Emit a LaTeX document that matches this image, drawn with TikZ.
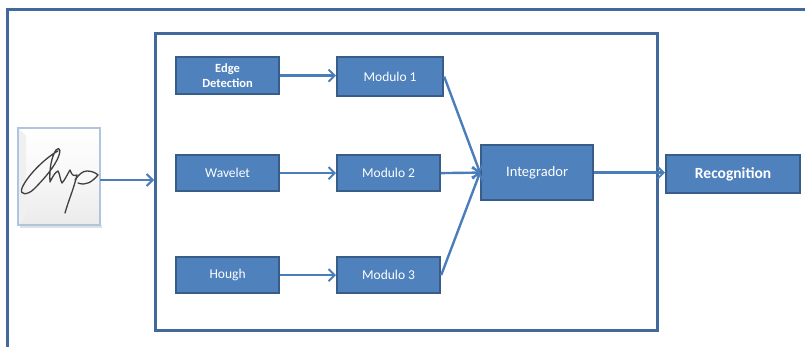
\documentclass[tikz,border=0pt]{standalone}
\usepackage{fontspec}
\setmainfont{Carlito}
\usetikzlibrary{arrows.meta}
\definecolor{boxfill}{HTML}{4F81BD}
\definecolor{boxline}{HTML}{385D8A}
\definecolor{frameline}{HTML}{41699B}
\definecolor{arrowc}{HTML}{4A7EBB}
\tikzset{
  blk/.style={draw=boxline, line width=2.2pt, fill=boxfill, text=white, inner sep=0pt, anchor=north west, font=\fontsize{13.5}{15}\selectfont},
  conn/.style={draw=arrowc, line width=2.4pt, -{Straight Barb[length=6pt,width=12pt,line width=2pt]}},
  frame/.style={draw=frameline, line width=3pt}
}
\begin{document}
\begin{tikzpicture}[x=1pt,y=-1pt]
\useasboundingbox (0,0) rectangle (805,347);
% outer frame (top and left)
\draw[frame] (7,347) -- (7,10) -- (805,10);
% inner frame
\node[frame, minimum width=502pt, minimum height=297pt, anchor=north west, inner sep=0pt] (inner) at (154,32) {};
% signature image
\fill[black!12] (20,225) rectangle (102,228);
\shade[top color=white, bottom color=black!8, middle color=black!3] (18,128) rectangle (100,225);
\fill[black!6] (18,128) -- (26,136) -- (26,217) -- (18,225) -- cycle;
\draw[draw=arrowc!45, line width=1.2pt] (18,128) rectangle (100,225);
\coordinate (sigR) at (100,180);
\node[inner sep=0pt, minimum width=82pt, minimum height=97pt, anchor=north west] (sig) at (18,128) {};
\draw[black!75, line width=1.3pt, line cap=round, line join=round]
  (58,151) .. controls (48,156) and (28,174) .. (22,188)
  .. controls (19,196) and (28,195) .. (34,189)
  .. controls (42,181) and (52,170) .. (57,160)
  .. controls (61,152) and (61,146) .. (56,150)
  .. controls (52,156) and (49,168) .. (50,182)
  .. controls (52,178) and (55,172) .. (58,171)
  .. controls (60,174) and (60,180) .. (62,183)
  .. controls (65,180) and (68,173) .. (70,170)
  .. controls (72,176) and (74,176) .. (77,175)
  .. controls (74,188) and (68,202) .. (65,213);
\draw[black!75, line width=1.3pt, line cap=round]
  (75,180) .. controls (79,174) and (83,171) .. (87,171)
  .. controls (92,171) and (96,173) .. (98,175)
  .. controls (92,182) and (86,186) .. (78,183);
% blocks
\node[blk, minimum width=103pt, minimum height=37pt, align=center, font=\fontsize{12.5}{15}\selectfont\bfseries] (edge) at (175,56) {Edge\\Detection};
\node[blk, minimum width=103pt, minimum height=36pt] (wav) at (175,154) {Wavelet};
\node[blk, minimum width=103pt, minimum height=36pt] (hough) at (175,256) {Hough};
\node[blk, minimum width=106pt, minimum height=39pt] (m1) at (336,56) {Modulo 1};
\node[blk, minimum width=103pt, minimum height=36pt] (m2) at (336,154) {Modulo 2};
\node[blk, minimum width=103pt, minimum height=36pt] (m3) at (336,256) {Modulo 3};
\node[blk, minimum width=112pt, minimum height=55pt, font=\fontsize{14.5}{16}\selectfont] (int) at (480,144) {Integrador};
\node[blk, minimum width=134pt, minimum height=38pt, font=\fontsize{15.5}{17}\selectfont\bfseries] (rec) at (665,154) {Recognition};
% connectors
\draw[conn] (sigR) -- (inner.west |- sigR);
\draw[conn] (edge.east) -- (m1.west |- edge.east);
\draw[conn] (wav.east) -- (m2.west);
\draw[conn] (hough.east) -- (m3.west);
\draw[conn] (m1.east) -- (int.west);
\draw[conn] (m2.east) -- (int.west);
\draw[conn] (m3.east) -- (int.west);
\draw[conn] (int.east) -- (rec.west |- int.east);
\end{tikzpicture}
\end{document}
